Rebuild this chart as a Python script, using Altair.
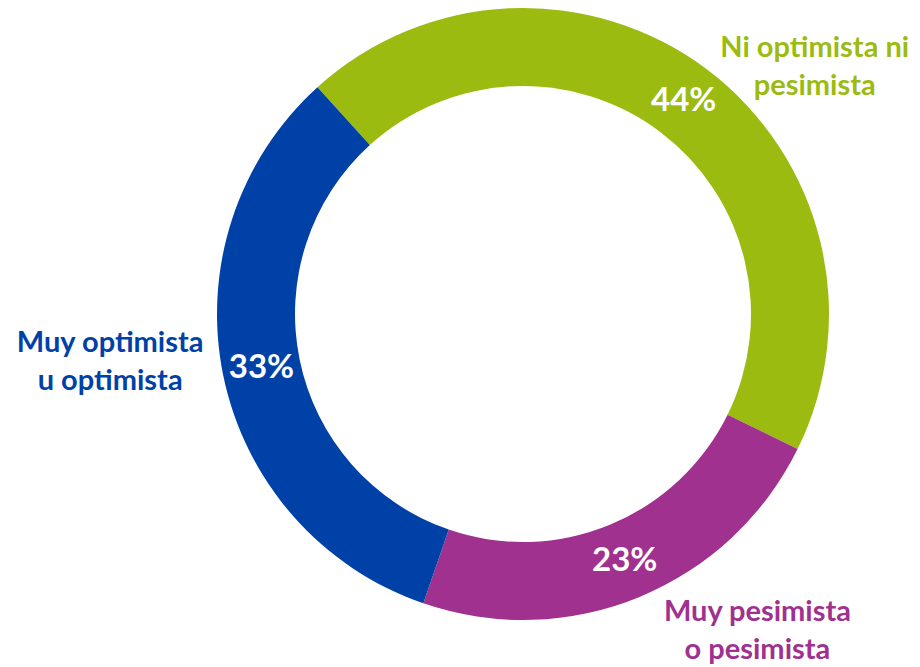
import math
import altair as alt
import pandas as pd

categorias = ["Ni optimista ni pesimista", "Muy pesimista o pesimista", "Muy optimista u optimista"]
etiquetas = ["Ni optimista ni\npesimista", "Muy pesimista\no pesimista", "Muy optimista\nu optimista"]
valores = [44, 23, 33]
colores = ["#9BBB11", "#A0318F", "#0041A8"]

df = pd.DataFrame({
    "categoria": categorias,
    "etiqueta": etiquetas,
    "valor": valores,
    "orden": list(range(len(categorias))),
})

FONT = "Lato"
CX, CY = 515, 306
start = math.radians(-42.2)
tscale = alt.Scale(domain=[0, sum(valores)], range=[start, start + 2 * math.pi])
cscale = alt.Scale(domain=categorias, range=colores)

base = (
    alt.Chart(df)
    .transform_stack(stack="valor", as_=["ini", "fin"], groupby=[], sort=[alt.SortField("orden")])
    .transform_calculate(mid="(datum.ini + datum.fin) / 2", pct="format(datum.valor, 'd') + '%'")
)

arcs = base.mark_arc(innerRadius=228, outerRadius=306).encode(
    theta=alt.Theta("ini:Q", scale=tscale),
    theta2="fin:Q",
    color=alt.Color("categoria:N", scale=cscale, legend=None),
    x=alt.value(CX),
    y=alt.value(CY),
)

pcts = base.mark_text(
    radius=267, font=FONT, fontWeight="bold", fontSize=33, color="white",
    align="center", baseline="middle",
).encode(
    theta=alt.Theta("mid:Q", scale=tscale),
    text="pct:N",
    x=alt.value(CX),
    y=alt.value(CY),
)

offsets = [(51, 53), (82, -72), (-21, -51)]
label_layers = []
for cat, (ox, oy) in zip(categorias, offsets):
    label_layers.append(
        base.transform_filter(alt.datum.categoria == cat)
        .mark_text(
            radius=400, dx=ox, dy=oy, font=FONT, fontWeight="bold", fontSize=29,
            lineBreak="\n", lineHeight=38, align="center", baseline="middle",
        )
        .encode(
            theta=alt.Theta("mid:Q", scale=tscale),
            text="etiqueta:N",
            color=alt.Color("categoria:N", scale=cscale, legend=None),
            x=alt.value(CX),
            y=alt.value(CY),
        )
    )

chart = (
    alt.layer(arcs, pcts, *label_layers)
    .properties(width=904, height=659, padding=0, autosize=alt.AutoSizeParams(type="none"))
    .configure_view(stroke=None)
)

chart.save("out.html", embed_options={"renderer": "svg", "actions": False})
